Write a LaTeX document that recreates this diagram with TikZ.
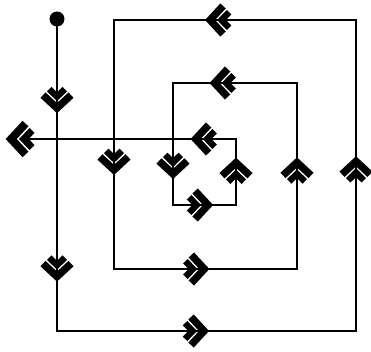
\documentclass[tikz,border=0pt]{standalone}
\usetikzlibrary{decorations.markings,positioning}

% double chevron flow mark, pointing along the path
\newcommand{\chevron}[1]{%
  \draw[scale=#1, line width=#1*4.2pt, line join=miter, line cap=butt] (-5,-14) -- (8,0) -- (-5,14);
  \draw[scale=#1, line width=#1*3.6pt, line join=miter, line cap=butt] (-11,-7.8) -- (-3.4,0) -- (-11,7.8);}

\begin{document}
\begin{tikzpicture}[
    x=0.02cm, y=-0.02cm,
    line width=1.5pt, line cap=rect,
    dot/.style={circle, fill=black, inner sep=0pt, minimum size=3mm},
    flow/.style={postaction={decorate, decoration={markings, mark=at position #1 with {\chevron{1}}}}},
    outlet/.style={postaction={decorate, decoration={markings, mark=at position 1 with {\chevron{1.1}}}}}
]
    \useasboundingbox (0,0) rectangle (371,351);

    % Start point
    \node (start) [dot] at (57,19) {};

    % Corners of the spiral
    \coordinate (c1) at (57,331);
    \coordinate (c2) at (356,331);
    \coordinate (c3) at (356,20);
    \coordinate (c4) at (114,20);
    \coordinate (c5) at (114,269);
    \coordinate (c6) at (297,269);
    \coordinate (c7) at (297,83);
    \coordinate (c8) at (173,83);
    \coordinate (c9) at (173,205);
    \coordinate (c10) at (236,205);
    \coordinate (c11) at (236,139);
    \coordinate (exit) at (20,139);

    % Outer loop
    \draw [flow=0.26, flow=0.80] (start.center) -- (c1);
    \draw [flow=0.465] (c1) -- (c2);
    \draw [flow=0.52] (c2) -- (c3);
    \draw [flow=0.57] (c3) -- (c4);

    % Middle loop
    \draw [flow=0.57] (c4) -- (c5);
    \draw [flow=0.45] (c5) -- (c6);
    \draw [flow=0.53] (c6) -- (c7);
    \draw [flow=0.60] (c7) -- (c8);

    % Inner loop and exit
    \draw [flow=0.68] (c8) -- (c9);
    \draw [flow=0.43] (c9) -- (c10);
    \draw [flow=0.52] (c10) -- (c11);
    \draw [flow=0.15, outlet, line cap=butt] (c11) -- (exit);
\end{tikzpicture}
\end{document}
